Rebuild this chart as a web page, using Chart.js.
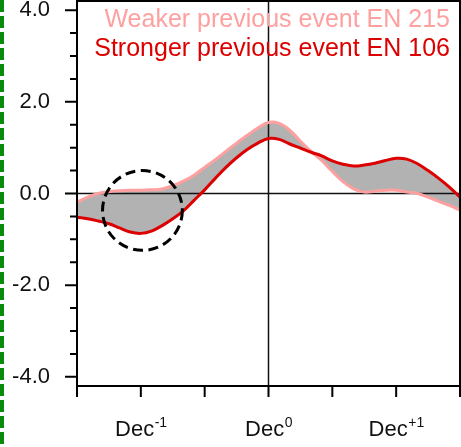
<!DOCTYPE html>
<html>
<head>
<meta charset="utf-8">
<script src="https://cdn.jsdelivr.net/npm/chart.js@4/dist/chart.umd.min.js"></script>
<style>
  html, body { margin: 0; padding: 0; background: #fff; }
  #wrap { position: relative; width: 461px; height: 447px; }
  #edge {
    position: absolute; left: 0; top: 0; width: 4px; height: 447px;
    background: repeating-linear-gradient(to bottom, #0a8a0a 0px, #0a8a0a 12px, transparent 12px, transparent 16px);
  }
</style>
</head>
<body>
<div id="wrap">
  <canvas id="c"></canvas>
  <div id="edge"></div>
</div>
<script>
// Months relative to December of year 0
const months = [-18,-17,-16,-15,-14,-13,-12,-11,-10,-9,-8,-7,-6,-5,-4,-3,-2,-1,0,
                 1,2,3,4,5,6,7,8,9,10,11,12,13,14,15,16,17,18];

// Composite anomalies
const strongerEN106 = [-0.52,-0.55,-0.60,-0.66,-0.75,-0.84,-0.87,-0.82,-0.70,-0.55,-0.38,-0.15,0.08,0.33,0.57,0.78,0.96,1.10,1.20,
                        1.18,1.08,0.99,0.90,0.82,0.71,0.64,0.60,0.62,0.66,0.72,0.77,0.75,0.65,0.50,0.33,0.14,-0.08];
const weakerEN215   = [-0.19,-0.08,0.00,0.04,0.06,0.07,0.07,0.08,0.10,0.17,0.27,0.40,0.57,0.74,0.92,1.10,1.27,1.43,1.55,
                        1.53,1.38,1.14,0.92,0.72,0.48,0.26,0.10,0.03,0.05,0.07,0.07,0.03,0.00,-0.08,-0.17,-0.26,-0.36];

const seriesNames = ['Stronger previous event EN 106', 'Weaker previous event EN 215'];

// Axis ticks
const yMajorTicks = [-4, -2, 0, 2, 4];
const yMinorTicks = [-3.5,-3,-2.5,-1.5,-1,-0.5,0.5,1,1.5,2.5,3,3.5];
const xTicks = [-18, -12, -6, 0, 6, 12, 18];
const xLabelMonths = [-12, 0, 12];
const xLabelBase = ['Dec', 'Dec', 'Dec'];
const xLabelSup = ['-1', '0', '+1'];

// Highlighted region (centre in data units, radius in months)
const focus = { x: -11.85, y: -0.37, r: 3.75 };

const RED = '#dd0000';
const PINK = '#ffa0a0';
const FONT = '"Liberation Sans", Arial, Helvetica, sans-serif';

const decor = {
  id: 'decor',
  beforeDatasetsDraw(chart) {
    const { ctx, chartArea: a, scales: { x, y } } = chart;
    ctx.save();
    ctx.strokeStyle = '#111';
    ctx.lineWidth = 1.5;
    const y0 = y.getPixelForValue(0);
    const x0 = x.getPixelForValue(0);
    ctx.beginPath();
    ctx.moveTo(a.left, y0); ctx.lineTo(a.right, y0);
    ctx.moveTo(x0, a.top); ctx.lineTo(x0, a.bottom);
    ctx.stroke();
    ctx.restore();
  },
  afterDatasetsDraw(chart) {
    const { ctx, chartArea: a, scales: { x, y } } = chart;
    ctx.save();
    // dashed circle
    const cx = x.getPixelForValue(focus.x);
    const cy = y.getPixelForValue(focus.y);
    const r = x.getPixelForValue(focus.x + focus.r) - cx;
    ctx.setLineDash([10, 5.5]);
    ctx.lineWidth = 3;
    ctx.strokeStyle = '#000';
    ctx.beginPath();
    ctx.arc(cx, cy, r, 0, Math.PI * 2);
    ctx.stroke();
    ctx.setLineDash([]);

    // frame
    ctx.lineWidth = 2;
    ctx.strokeStyle = '#000';
    ctx.strokeRect(a.left, a.top, a.right - a.left, a.bottom - a.top);

    // y tick marks
    ctx.beginPath();
    yMajorTicks.forEach(v => { const p = y.getPixelForValue(v); ctx.moveTo(a.left - 12, p); ctx.lineTo(a.left, p); });
    yMinorTicks.forEach(v => { const p = y.getPixelForValue(v); ctx.moveTo(a.left - 7, p); ctx.lineTo(a.left, p); });
    // x tick marks
    xTicks.forEach(v => { const p = x.getPixelForValue(v); ctx.moveTo(p, a.bottom); ctx.lineTo(p, a.bottom + 11); });
    ctx.stroke();

    // x labels with superscripts
    ctx.fillStyle = '#111';
    ctx.textBaseline = 'alphabetic';
    ctx.textAlign = 'left';
    xLabelMonths.forEach((m, i) => {
      const base = xLabelBase[i], sup = xLabelSup[i];
      ctx.font = '22px ' + FONT;
      const wb = ctx.measureText(base).width;
      ctx.font = '14px ' + FONT;
      const ws = ctx.measureText(sup).width;
      const px = x.getPixelForValue(m) - (wb + ws) / 2;
      ctx.font = '22px ' + FONT;
      ctx.fillText(base, px, a.bottom + 50);
      ctx.font = '14px ' + FONT;
      ctx.fillText(sup, px + wb + 0.5, a.bottom + 41);
    });

    // series labels
    ctx.textAlign = 'right';
    ctx.font = '25px ' + FONT;
    ctx.fillStyle = PINK;
    ctx.fillText(seriesNames[1], a.right - 10, a.top + 26);
    ctx.fillStyle = RED;
    ctx.fillText(seriesNames[0], a.right - 10, a.top + 55);
    ctx.restore();
  }
};

new Chart(document.getElementById('c'), {
  type: 'line',
  data: {
    datasets: [
      {
        label: seriesNames[0],
        data: months.map((m, i) => ({ x: m, y: strongerEN106[i] })),
        borderColor: RED,
        borderWidth: 3,
        pointRadius: 0,
        tension: 0.4,
        fill: false
      },
      {
        label: seriesNames[1],
        data: months.map((m, i) => ({ x: m, y: weakerEN215[i] })),
        borderColor: PINK,
        borderWidth: 3,
        pointRadius: 0,
        tension: 0.4,
        fill: { target: 0 },
        backgroundColor: 'rgb(178,178,178)'
      }
    ]
  },
  options: {
    responsive: true,
    maintainAspectRatio: false,
    animation: false,
    layout: { padding: { top: 1, right: 1, left: 0, bottom: 0 } },
    plugins: {
      legend: { display: false },
      tooltip: { enabled: false },
      filler: { drawTime: 'beforeDatasetsDraw' }
    },
    scales: {
      x: {
        type: 'linear',
        min: -18,
        max: 18,
        afterBuildTicks: s => { s.ticks = xTicks.map(v => ({ value: v })); },
        afterFit: s => { s.height = 61; s.paddingLeft = 0; s.paddingRight = 0; },
        ticks: { display: false },
        grid: { display: false, drawTicks: false },
        border: { display: false }
      },
      y: {
        min: -4.2,
        max: 4.2,
        afterBuildTicks: s => { s.ticks = yMajorTicks.map(v => ({ value: v })); },
        afterFit: s => { s.width = 77; s.paddingTop = 0; s.paddingBottom = 0; },
        ticks: {
          padding: 27,
          color: '#111',
          font: { family: FONT, size: 22 },
          callback: v => v.toFixed(1)
        },
        grid: { display: false, drawTicks: false },
        border: { display: false }
      }
    }
  },
  plugins: [decor]
});
</script>
</body>
</html>
